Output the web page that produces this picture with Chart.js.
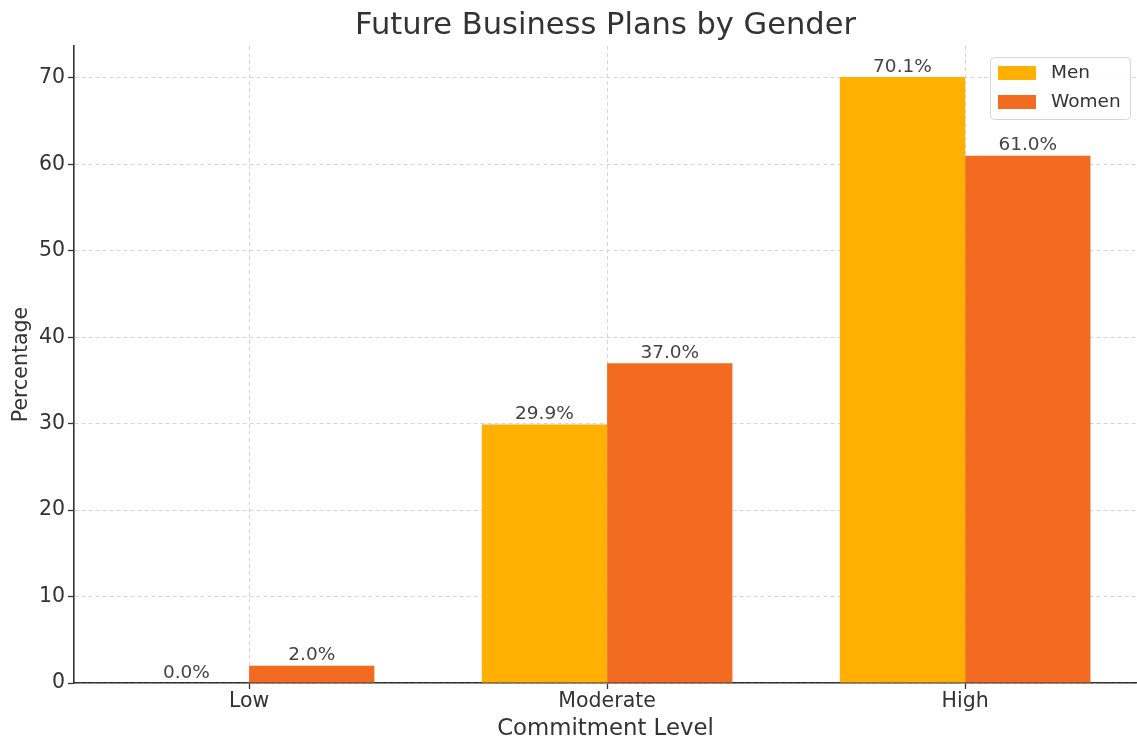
<!DOCTYPE html>
<html>
<head>
<meta charset="utf-8">
<script src="https://cdn.jsdelivr.net/npm/chart.js@4"></script>
<style>
  html, body { margin: 0; padding: 0; background: #fff; }
  #wrap { width: 1137px; height: 743px; }
</style>
</head>
<body>
<div id="wrap"><canvas id="chart"></canvas></div>
<script>
// Data
const levels = ['Low', 'Moderate', 'High'];
const menValues = [0.0, 29.9, 70.1];
const womenValues = [2.0, 37.0, 61.0];
const yTicks = [0, 10, 20, 30, 40, 50, 60, 70];

const FONT = "'DejaVu Sans', sans-serif";
const TEXT = '#333333';

// categories sit at 0, 1, 2 on a numeric axis so the side margins match matplotlib
const toPoints = vals => vals.map((v, i) => ({ x: i, y: v }));

// Title centered over the plot area
const titlePlugin = {
  id: 'plotTitle',
  afterDraw(chart) {
    const { ctx, chartArea } = chart;
    ctx.save();
    ctx.font = `30.5px ${FONT}`;
    ctx.fillStyle = TEXT;
    ctx.textAlign = 'center';
    ctx.textBaseline = 'middle';
    ctx.fillText('Future Business Plans by Gender', (chartArea.left + chartArea.right) / 2, chartArea.top - 20);
    ctx.restore();
  }
};

// Value labels on top of each bar
const valueLabels = {
  id: 'valueLabels',
  afterDatasetsDraw(chart) {
    const { ctx } = chart;
    ctx.save();
    ctx.font = `18.5px ${FONT}`;
    ctx.fillStyle = '#444';
    ctx.textAlign = 'center';
    ctx.textBaseline = 'bottom';
    chart.data.datasets.forEach((ds, i) => {
      chart.getDatasetMeta(i).data.forEach((bar, j) => {
        ctx.fillText(ds.data[j].y.toFixed(1) + '%', bar.x, bar.y - 1);
      });
    });
    ctx.restore();
  }
};

// Legend box inside the plot, top right
const insideLegend = {
  id: 'insideLegend',
  afterDraw(chart) {
    const { ctx, chartArea } = chart;
    const w = 140, h = 62;
    const x = chartArea.right - 7 - w, y = chartArea.top + 11;
    ctx.save();
    ctx.fillStyle = 'rgba(255,255,255,0.85)';
    ctx.strokeStyle = '#d5d5d5';
    ctx.lineWidth = 1;
    ctx.beginPath();
    ctx.roundRect(x + 0.5, y + 0.5, w, h, 4);
    ctx.fill();
    ctx.stroke();
    ctx.font = `18.5px ${FONT}`;
    ctx.textBaseline = 'middle';
    chart.data.datasets.forEach((ds, i) => {
      const ry = y + 16 + i * 29;
      ctx.fillStyle = ds.backgroundColor;
      ctx.fillRect(x + 8, ry - 7, 38, 14);
      ctx.fillStyle = TEXT;
      ctx.fillText(ds.label, x + 61, ry);
    });
    ctx.restore();
  }
};

new Chart(document.getElementById('chart'), {
  type: 'bar',
  data: {
    datasets: [
      { label: 'Men', data: toPoints(menValues), backgroundColor: '#FFB000', categoryPercentage: 0.7, barPercentage: 1.0 },
      { label: 'Women', data: toPoints(womenValues), backgroundColor: '#F26B21', categoryPercentage: 0.7, barPercentage: 1.0 }
    ]
  },
  options: {
    responsive: true,
    maintainAspectRatio: false,
    animation: false,
    layout: { padding: { top: 46, right: 0, left: 0, bottom: 0 } },
    plugins: {
      legend: { display: false },
      tooltip: { enabled: false }
    },
    scales: {
      x: {
        type: 'linear',
        offset: false,
        min: -0.489,
        max: 2.48,
        afterBuildTicks(scale) { scale.ticks = levels.map((l, i) => ({ value: i })); },
        grid: {
          offset: false,
          color: '#d6d6d6',
          tickColor: '#333',
          tickLength: 6,
          tickBorderDash: [],
          tickWidth: 1.3
        },
        border: { display: true, color: '#333', width: 1.6, dash: [4, 3] },
        ticks: {
          color: TEXT,
          font: { family: FONT, size: 20.5 },
          padding: 0,
          callback: v => levels[v]
        },
        title: { display: true, text: 'Commitment Level', color: TEXT, font: { family: FONT, size: 22.8 }, padding: { top: 0, bottom: 0 } },
        afterFit(scale) { scale.height = 60; }
      },
      y: {
        min: 0,
        max: 73.7,
        afterBuildTicks(scale) { scale.ticks = yTicks.map(v => ({ value: v })); },
        grid: {
          color: '#d6d6d6',
          tickColor: '#333',
          tickLength: 6,
          tickBorderDash: [],
          tickWidth: 1.3
        },
        border: { display: true, color: '#333', width: 1.6, dash: [4, 3] },
        ticks: { color: TEXT, font: { family: FONT, size: 20.5 }, padding: 3 },
        title: { display: true, text: 'Percentage', color: TEXT, font: { family: FONT, size: 20.5 }, padding: { top: 9, bottom: 0 } },
        afterFit(scale) { scale.width = 74; }
      }
    }
  },
  plugins: [titlePlugin, valueLabels, insideLegend]
});
</script>
</body>
</html>
